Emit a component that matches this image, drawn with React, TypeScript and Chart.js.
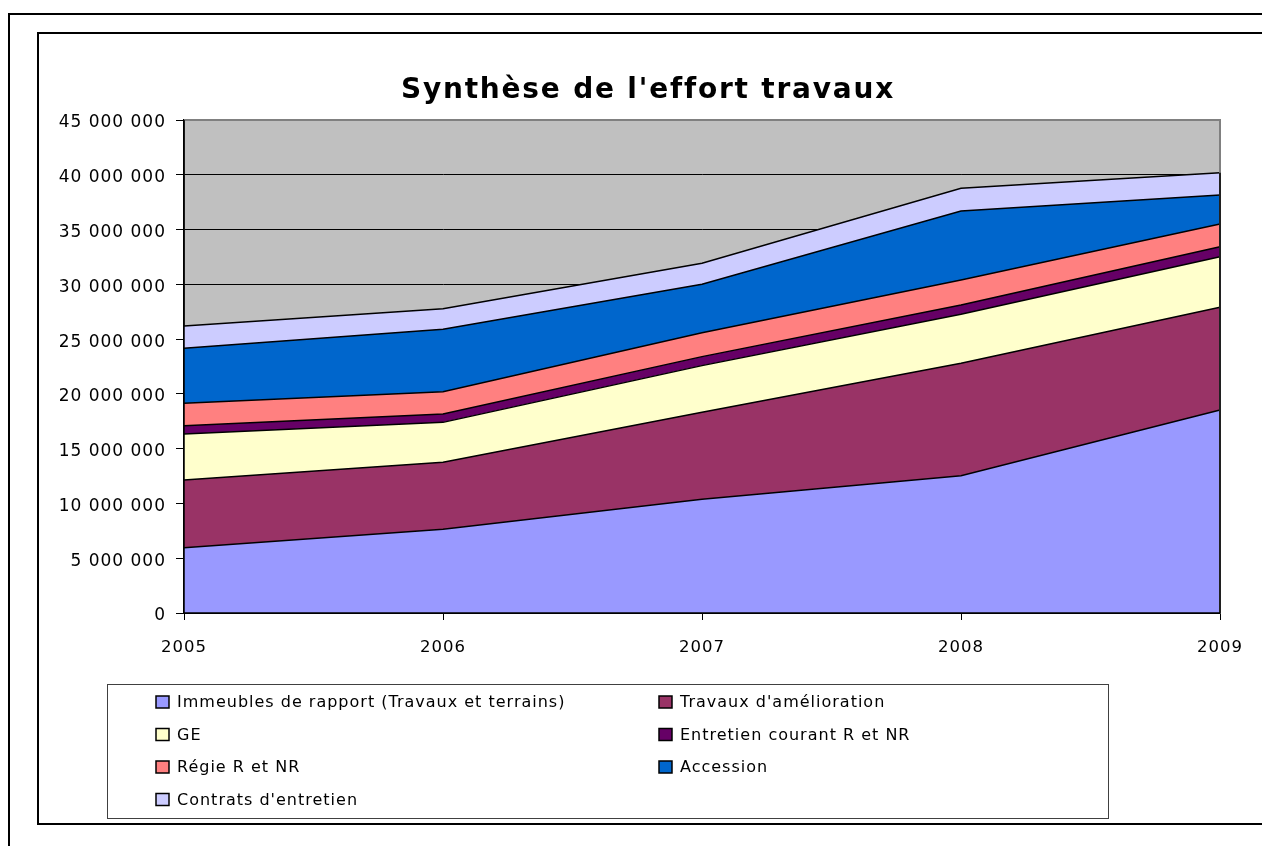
import React, { useEffect, useRef } from 'react';
import { Chart, registerables } from 'chart.js';

Chart.register(...registerables);

const FONT = '"DejaVu Sans", Verdana, sans-serif';

const TITLE = "Synthèse de l'effort travaux";
const years = ['2005', '2006', '2007', '2008', '2009'];

const immeubles = [5960000, 7640000, 10380000, 12530000, 18530000];
const travauxAmelioration = [6180000, 6110000, 7940000, 10260000, 9370000];
const ge = [4200000, 3650000, 4260000, 4470000, 4620000];
const entretienCourant = [760000, 760000, 820000, 850000, 920000];
const regie = [2040000, 2040000, 2190000, 2290000, 2060000];
const accession = [5020000, 5700000, 4410000, 6290000, 2650000];
const contrats = [2040000, 1880000, 1920000, 2070000, 2040000];

const seriesLabels = [
  'Immeubles de rapport (Travaux et terrains)',
  "Travaux d'amélioration",
  'GE',
  'Entretien courant R et NR',
  'Régie R et NR',
  'Accession',
  "Contrats d'entretien",
];
const seriesColors = ['#9999FF', '#993366', '#FFFFCC', '#660066', '#FF8080', '#0066CC', '#CCCCFF'];
const seriesValues = [immeubles, travauxAmelioration, ge, entretienCourant, regie, accession, contrats];

const yMax = 45000000;
const yStep = 5000000;

function fmt(v: number): string {
  return String(v).replace(/\B(?=(\d{3})+(?!\d))/g, ' ');
}

const decor = {
  id: 'decor',
  beforeDraw(chart: any) {
    const { ctx, chartArea: a } = chart;
    ctx.save();
    ctx.fillStyle = '#C0C0C0';
    ctx.fillRect(a.left, a.top, a.right - a.left, a.bottom - a.top);
    ctx.restore();
    try { (ctx as any).letterSpacing = '1px'; } catch (e) { /* ignore */ }
  },
  afterDraw(chart: any) {
    const { ctx, chartArea: a } = chart;
    ctx.save();
    // plot area border (top + right)
    ctx.strokeStyle = '#808080';
    ctx.lineWidth = 2;
    ctx.beginPath();
    ctx.moveTo(a.left, a.top);
    ctx.lineTo(a.right, a.top);
    ctx.lineTo(a.right, a.bottom);
    ctx.stroke();
    // right edge of the stacked areas
    const metaTop = chart.getDatasetMeta(chart.data.datasets.length - 1);
    const lastPt = metaTop.data[metaTop.data.length - 1];
    ctx.strokeStyle = '#000';
    ctx.lineWidth = 1.5;
    ctx.beginPath();
    ctx.moveTo(a.right, lastPt.y);
    ctx.lineTo(a.right, a.bottom);
    ctx.stroke();
    // axis lines
    ctx.beginPath();
    ctx.moveTo(a.left, a.top);
    ctx.lineTo(a.left, a.bottom);
    ctx.lineTo(a.right, a.bottom);
    ctx.stroke();

    // title
    ctx.fillStyle = '#000';
    ctx.font = `bold 28px ${FONT}`;
    try { (ctx as any).letterSpacing = '1.8px'; } catch (e) { /* ignore */ }
    ctx.textAlign = 'center';
    ctx.textBaseline = 'alphabetic';
    ctx.fillText(TITLE, 648, 98);

    // legend
    const lx = 107, ly = 684, lw = 1001, lh = 134;
    ctx.strokeStyle = '#404040';
    ctx.lineWidth = 1;
    ctx.strokeRect(lx + 0.5, ly + 0.5, lw, lh);
    ctx.font = `16px ${FONT}`;
    try { (ctx as any).letterSpacing = '1px'; } catch (e) { /* ignore */ }
    ctx.textAlign = 'left';
    ctx.textBaseline = 'middle';
    const colBox = [156, 659];
    const rowY = [702, 734.5, 767, 799.5];
    chart.data.datasets.forEach((ds: any, i: number) => {
      const col = i % 2;
      const row = Math.floor(i / 2);
      const bx = colBox[col];
      const cy = rowY[row];
      ctx.fillStyle = ds.backgroundColor;
      ctx.fillRect(bx, cy - 6, 13, 12);
      ctx.strokeStyle = '#000';
      ctx.lineWidth = 1.5;
      ctx.strokeRect(bx, cy - 6, 13, 12);
      ctx.fillStyle = '#000';
      ctx.fillText(ds.label, bx + 21, cy + 1);
    });
    ctx.restore();
    try { (ctx as any).letterSpacing = '0px'; } catch (e) { /* ignore */ }
  },
};

export default function App() {
  const ref = useRef<HTMLCanvasElement | null>(null);

  useEffect(() => {
    if (!ref.current) return;
    const datasets = seriesValues.map((vals, i) => ({
      label: seriesLabels[i],
      data: vals,
      backgroundColor: seriesColors[i],
      borderColor: '#000',
      borderWidth: 1.5,
      pointRadius: 0,
      pointHoverRadius: 0,
      tension: 0,
      fill: i === 0 ? 'origin' : '-1',
    }));
    const chart = new Chart(ref.current, {
      type: 'line',
      data: { labels: years, datasets },
      options: {
        animation: false,
        responsive: false,
        devicePixelRatio: 1,
        layout: { padding: { top: 120, right: 42, bottom: 183, left: 0 } },
        plugins: {
          legend: { display: false },
          title: { display: false },
          tooltip: { enabled: false },
        },
        scales: {
          x: {
            type: 'category',
            offset: false,
            grid: { display: true, drawOnChartArea: false, drawTicks: true, tickLength: 7, color: '#000' },
            border: { display: true, color: '#000', width: 1.5 },
            ticks: { color: '#000', font: { family: FONT, size: 16.5 }, padding: 18, maxRotation: 0, autoSkip: false },
            afterFit(s: any) { s.height = 50; },
          },
          y: {
            stacked: true,
            min: 0,
            max: yMax,
            grid: { color: '#000', lineWidth: 1, drawTicks: true, tickLength: 8 },
            border: { display: true, color: '#000', width: 1.5 },
            ticks: {
              stepSize: yStep,
              color: '#000',
              font: { family: FONT, size: 17 },
              padding: 10,
              labelOffset: 3,
              callback: (v: any) => fmt(Number(v)),
            },
            afterFit(s: any) { s.width = 184; },
          },
        },
      },
      plugins: [decor],
    } as any);
    return () => chart.destroy();
  }, []);

  return (
    <div style={{ position: 'absolute', left: 0, top: 0, width: 1262, height: 846, overflow: 'hidden', background: '#fff' }}>
      <div style={{ position: 'absolute', left: 8, top: 13, width: 1400, height: 1000, border: '2px solid #000' }} />
      <div style={{ position: 'absolute', left: 37, top: 32, width: 1400, height: 789, border: '2px solid #000' }} />
      <canvas ref={ref} width={1262} height={846} style={{ position: 'absolute', left: 0, top: 0, width: 1262, height: 846 }} />
    </div>
  );
}
